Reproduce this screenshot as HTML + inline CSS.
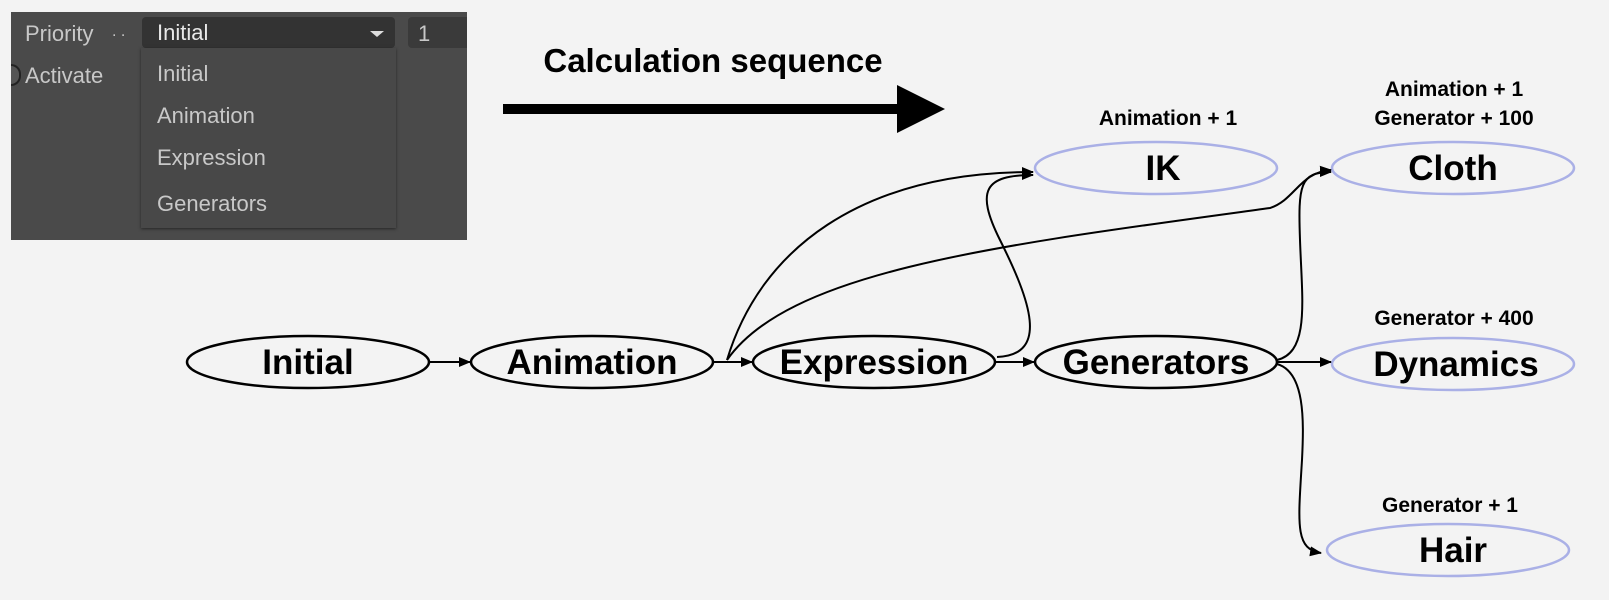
<!DOCTYPE html>
<html><head><meta charset="utf-8"><style>
html,body{margin:0;padding:0;background:#f3f3f3;}
body{width:1609px;height:600px;position:relative;overflow:hidden;font-family:"Liberation Sans",sans-serif;}
.panel{position:absolute;left:11px;top:12px;width:456px;height:228px;background:#4a4a4a;}
.t{position:absolute;color:#c8c8c8;font-size:22px;}
</style></head><body>
<div class="panel"></div>
<div class="t" style="left:25px;top:21px;">Priority</div>
<div class="t" style="left:112px;top:23px;font-size:16px;">. .</div>
<div style="position:absolute;left:142px;top:17px;width:253px;height:31px;background:#333;border-radius:4px;"></div>
<div class="t" style="left:157px;top:20px;color:#e8e8e8;">Initial</div>
<div style="position:absolute;left:370px;top:31px;width:0;height:0;border-left:7px solid transparent;border-right:7px solid transparent;border-top:6px solid #ddd;"></div>
<div style="position:absolute;left:408px;top:17px;width:59px;height:31px;background:#3a3a3a;border-radius:4px 0 0 4px;"></div>
<div class="t" style="left:418px;top:21px;">1</div>
<div style="position:absolute;left:11px;top:64px;width:8px;height:18px;border-radius:0 10px 10px 0;border:2px solid #222;border-left:none;background:#555;"></div>
<div class="t" style="left:25px;top:63px;">Activate</div>
<div style="position:absolute;left:141px;top:48px;width:255px;height:180px;background:#484848;box-shadow:0 1px 3px rgba(0,0,0,.5);"></div>
<div class="t" style="left:157px;top:61px;">Initial</div>
<div class="t" style="left:157px;top:103px;">Animation</div>
<div class="t" style="left:157px;top:145px;">Expression</div>
<div class="t" style="left:157px;top:191px;">Generators</div>

<svg width="1609" height="600" style="position:absolute;left:0;top:0;" font-family="Liberation Sans, sans-serif">
<defs><marker id="a" markerWidth="12" markerHeight="12" refX="11" refY="6" orient="auto" markerUnits="userSpaceOnUse"><path d="M0,1 L12,6 L0,11 z" fill="#000"/></marker></defs>
<text x="713" y="72" font-size="33" font-weight="bold" text-anchor="middle">Calculation sequence</text>
<rect x="503" y="104" width="400" height="10" fill="#000"/>
<path d="M897,85 L945,109 L897,133 z" fill="#000"/>
<g fill="none" stroke="#000" stroke-width="2.5">
<ellipse cx="308" cy="362" rx="121" ry="26"/>
<ellipse cx="592" cy="362" rx="121" ry="26"/>
<ellipse cx="874" cy="362" rx="121" ry="26"/>
<ellipse cx="1156" cy="362" rx="121" ry="26"/>
</g>
<g fill="none" stroke="#aab0e6" stroke-width="2.5">
<ellipse cx="1156" cy="168" rx="121" ry="26"/>
<ellipse cx="1453" cy="168" rx="121" ry="26"/>
<ellipse cx="1453" cy="364" rx="121" ry="26"/>
<ellipse cx="1448" cy="550" rx="121" ry="26"/>
</g>
<g fill="none" stroke="#000" stroke-width="2" marker-end="url(#a)">
<path d="M429,362 L470,362"/>
<path d="M713,362 L752,362"/>
<path d="M995,362 L1034,362"/>
<path d="M1277,362 L1331,362"/>
<path d="M727,360 C760,250 860,172 1033,172"/>
<path d="M727,360 C790,270 1000,245 1270,208 C1295,200 1300,172 1331,170"/>
<path d="M997,357 C1050,355 1030,300 1000,240 C975,190 985,175 1033,175"/>
<path d="M1277,360 C1310,352 1302,300 1300,240 C1298,185 1300,172 1331,172"/>
<path d="M1277,364 C1305,372 1304,420 1302,460 C1298,525 1295,549 1321,553"/>
</g>
<g font-weight="bold" text-anchor="middle">
<text x="308" y="374" font-size="35">Initial</text>
<text x="592" y="374" font-size="35">Animation</text>
<text x="874" y="374" font-size="35">Expression</text>
<text x="1156" y="374" font-size="35">Generators</text>
<text x="1163" y="180" font-size="35">IK</text>
<text x="1453" y="180" font-size="35">Cloth</text>
<text x="1456" y="376" font-size="35">Dynamics</text>
<text x="1453" y="562" font-size="35">Hair</text>
<text x="1168" y="125" font-size="21">Animation + 1</text>
<text x="1454" y="96" font-size="21">Animation + 1</text>
<text x="1454" y="125" font-size="21">Generator + 100</text>
<text x="1454" y="325" font-size="21">Generator + 400</text>
<text x="1450" y="512" font-size="21">Generator + 1</text>
</g>
</svg>
</body></html>
